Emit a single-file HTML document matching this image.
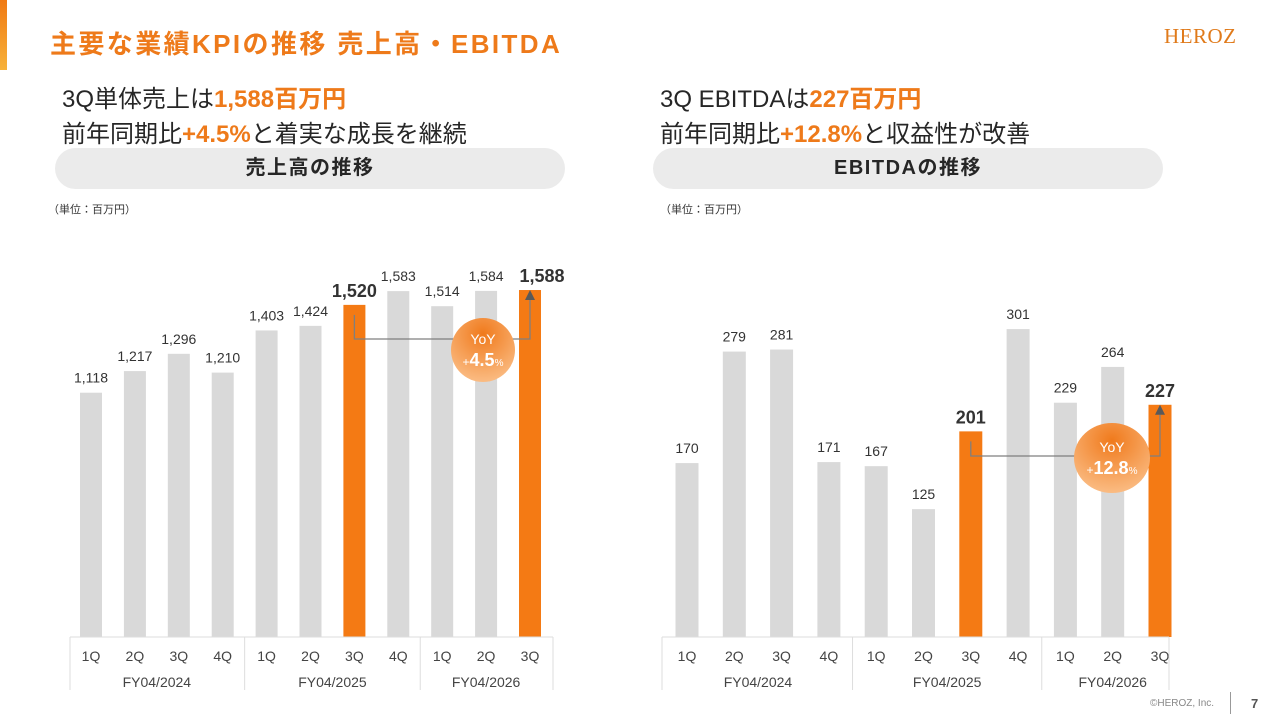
<!DOCTYPE html>
<html><head><meta charset="utf-8">
<style>
body{margin:0;width:1280px;height:720px;background:#fff;overflow:hidden;position:relative;font-family:"Liberation Sans","Noto Sans CJK JP",sans-serif;}
.abs{position:absolute;white-space:nowrap;}
.o{color:#ee7a1a;font-weight:bold;}
.pill{position:absolute;height:41px;border-radius:21px;background:#ebebeb;text-align:center;line-height:41px;font-size:20px;letter-spacing:1.5px;font-weight:bold;color:#262626;}
</style></head><body>
<div class="abs" style="left:0;top:0;width:7px;height:70px;background:linear-gradient(#f07a14,#f7b23a);"></div>
<div class="abs" style="left:50px;top:24px;font-size:26px;letter-spacing:2.4px;font-weight:bold;color:#ee7a1a;">主要な業績KPIの推移 売上高・EBITDA</div>
<div class="abs" style="left:1164px;top:24px;font-family:'Liberation Serif',serif;font-size:21px;color:#e07a1a;letter-spacing:0.5px;">HEROZ</div>

<div class="abs" style="left:62px;top:82px;font-size:24px;color:#262626;line-height:35px;">3Q単体売上は<span class="o">1,588百万円</span><br>前年同期比<span class="o">+4.5%</span>と着実な成長を継続</div>
<div class="pill" style="left:55px;top:148px;width:510px;">売上高の推移</div>
<div class="abs" style="left:48px;top:201px;font-size:11px;color:#333;">（単位：百万円）</div>

<div class="abs" style="left:660px;top:82px;font-size:24px;color:#262626;line-height:35px;">3Q EBITDAは<span class="o">227百万円</span><br>前年同期比<span class="o">+12.8%</span>と収益性が改善</div>
<div class="pill" style="left:653px;top:148px;width:510px;">EBITDAの推移</div>
<div class="abs" style="left:660px;top:201px;font-size:11px;color:#333;">（単位：百万円）</div>

<svg id="chart" width="1280" height="720" style="position:absolute;left:0;top:0">
<defs><radialGradient id="cg" cx="50%" cy="25%" r="80%"><stop offset="0" stop-color="#f07a1c"/><stop offset="1" stop-color="#fbc08a"/></radialGradient></defs>
</svg>

<div class="abs" style="left:1150px;top:698px;font-size:10px;color:#888;">©HEROZ, Inc.</div>
<div class="abs" style="left:1230px;top:692px;width:1px;height:22px;background:#999;"></div>
<div class="abs" style="left:1251px;top:696px;font-size:13px;font-weight:bold;color:#555;">7</div>

<script>
const quarters=["1Q","2Q","3Q","4Q","1Q","2Q","3Q","4Q","1Q","2Q","3Q"];
const years=["FY04/2024","FY04/2025","FY04/2026"];
const salesValues=[1118,1217,1296,1210,1403,1424,1520,1583,1514,1584,1588];
const ebitdaValues=[170,279,281,171,167,125,201,301,229,264,227];
const highlight=[6,10];
const salesYoY="4.5";
const ebitdaYoY="12.8";
const NS="http://www.w3.org/2000/svg";
const svg=document.getElementById('chart');
function mk(t,a,txt){const e=document.createElementNS(NS,t);for(const k in a)e.setAttribute(k,a[k]);if(txt!==undefined)e.textContent=txt;svg.appendChild(e);return e;}
function drawChart(vals,cfg){
  const base=637;
  const x=i=>cfg.x0+i*cfg.step;
  const y=v=>base-v*cfg.scale;
  vals.forEach((v,i)=>{
    const hl=highlight.includes(i);
    const b=mk('rect',{x:x(i)-cfg.bw/2,y:y(v),width:cfg.bw,height:base-y(v),fill:hl?'#f47a14':'#d9d9d9'});
    
    
    const t=mk('text',{x:x(i)+(hl&&i==10&&cfg.name=='sales'?12:0),y:y(v)-(hl?8:10),'text-anchor':'middle','font-size':hl?18:14,'font-weight':hl?'bold':'normal',fill:'#333'},v.toLocaleString('en-US'));
    
    
    const q=mk('text',{x:x(i),y:661,'text-anchor':'middle','font-size':14,fill:'#444'},quarters[i]);
    
    
  });
  const L=cfg.L,R=cfg.R;
  mk('line',{x1:L,y1:637,x2:R,y2:637,stroke:'#ddd','stroke-width':1});
  const divs=[L,x(3)+cfg.step/2,x(7)+cfg.step/2,R];
  divs.forEach(d=>mk('line',{x1:d,y1:637,x2:d,y2:690,stroke:'#ddd','stroke-width':1}));
  const spans=[[0,3],[4,7],[8,10]];
  spans.forEach((s,k)=>{
    const yt=mk('text',{x:(x(s[0])+x(s[1]))/2,y:687,'text-anchor':'middle','font-size':14,fill:'#444'},years[k]);
    
    
  });
  const a=highlight[0],b=highlight[1];
  const ly=cfg.lineY;
  mk('polyline',{points:`${x(a)},${y(vals[a])+10} ${x(a)},${ly} ${x(b)},${ly} ${x(b)},${y(vals[b])+10}`,fill:'none',stroke:'#7f7f7f','stroke-width':1.3});
  mk('polygon',{points:`${x(b)-5},${y(vals[b])+10} ${x(b)+5},${y(vals[b])+10} ${x(b)},${y(vals[b])}`,fill:'#595959'});
  const c=mk('ellipse',{cx:cfg.cx,cy:cfg.cy,rx:cfg.rx,ry:cfg.ry,fill:'url(#cg)'});
  
  
  mk('text',{x:cfg.cx,y:cfg.cy-6,'text-anchor':'middle','font-size':14,fill:'#fff'},'YoY');
  const t2=mk('text',{x:cfg.cx,y:cfg.cy+16,'text-anchor':'middle',fill:'#fff','font-weight':'bold'});
  t2.innerHTML=`<tspan font-size="12" font-weight="normal">+</tspan><tspan font-size="18">${cfg.yoy}</tspan><tspan font-size="10" font-weight="normal">%</tspan>`;
}
drawChart(salesValues,{name:'sales',x0:91,step:43.9,bw:22,scale:0.2185,lineY:339,cx:483,cy:350,rx:32,ry:32,yoy:salesYoY,L:70,R:553});
drawChart(ebitdaValues,{name:'ebitda',x0:687,step:47.3,bw:23,scale:1.023,lineY:456,cx:1112,cy:458,rx:38,ry:35,yoy:ebitdaYoY,L:662,R:1169});
</script>
</body></html>
